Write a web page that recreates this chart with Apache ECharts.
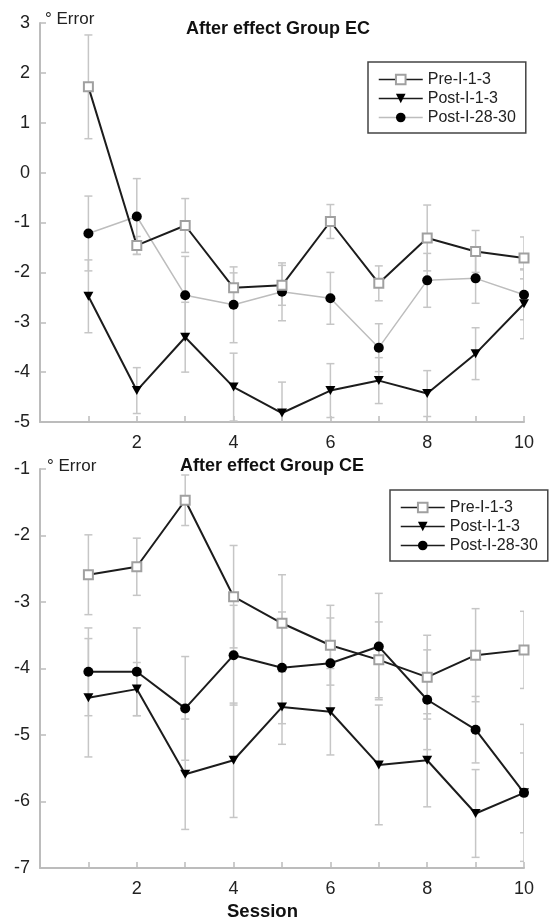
<!DOCTYPE html>
<html>
<head>
<meta charset="utf-8">
<script src="https://cdn.jsdelivr.net/npm/echarts@6/dist/echarts.min.js"></script>
<style>
  html, body { margin: 0; padding: 0; background: #fff; }
  #chart { width: 550px; height: 922px; }
</style>
</head>
<body>
<div id="chart"></div>
<script>
// Sessions shared by both panels
const sessions = [1, 2, 3, 4, 5, 6, 7, 8, 9, 10];
const seriesNames = ['Pre-I-1-3', 'Post-I-1-3', 'Post-I-28-30'];

// Group EC: mean error and error-bar half width
const ecPre      = [1.72, -1.46, -1.06, -2.31, -2.26, -0.98, -2.22, -1.31, -1.58, -1.71];
const ecPreErr   = [1.04, 0.18, 0.54, 0.30, 0.40, 0.34, 0.35, 0.66, 0.42, 0.42];
const ecPost     = [-2.48, -4.37, -3.30, -4.30, -4.82, -4.37, -4.17, -4.43, -3.63, -2.63];
const ecPostErr  = [0.73, 0.46, 0.70, 0.68, 0.62, 0.54, 0.46, 0.46, 0.52, 0.70];
const ecLate     = [-1.22, -0.88, -2.46, -2.65, -2.39, -2.52, -3.51, -2.16, -2.12, -2.45];
const ecLateErr  = [0.75, 0.76, 0.78, 0.76, 0.58, 0.52, 0.48, 0.54, 0.50, 0.50];

// Group CE
const cePre      = [-2.59, -2.47, -1.47, -2.92, -3.32, -3.65, -3.87, -4.13, -3.80, -3.72];
const cePreErr   = [0.60, 0.43, 0.38, 0.77, 0.73, 0.60, 0.57, 0.63, 0.70, 0.58];
const cePost     = [-4.44, -4.31, -5.59, -5.38, -4.58, -4.65, -5.45, -5.38, -6.18, -5.87];
const cePostErr  = [0.89, 0.40, 0.83, 0.86, 0.56, 0.65, 0.90, 0.70, 0.66, 0.60];
const ceLate     = [-4.05, -4.05, -4.60, -3.80, -3.99, -3.92, -3.67, -4.47, -4.92, -5.87];
const ceLateErr  = [0.66, 0.66, 0.78, 0.75, 0.84, 0.68, 0.80, 0.75, 0.50, 1.03];

// Axis ranges
const ecYRange = [-5, 3];
const ceYRange = [-7, -1];
const xRange = [0, 10];

const FONT = '"Liberation Sans", Arial, sans-serif';
const DARK = '#1c1c1c';
const LIGHT = '#bdbdbd';
const BAR = '#c6c6c6';
const AXIS = '#bcbcbc';
const TRI = 'path://M0,0L10,0L5,9Z';

function pts(vals) { return sessions.map((s, i) => [s, vals[i]]); }
function bars(vals, errs) { return sessions.map((s, i) => [s, vals[i] - errs[i], vals[i] + errs[i]]); }

function renderErrorBar(params, api) {
  const x = api.value(0);
  const lo = api.coord([x, api.value(1)]);
  const hi = api.coord([x, api.value(2)]);
  const cap = 4;
  const style = { stroke: BAR, lineWidth: 1.5 };
  return {
    type: 'group',
    children: [
      { type: 'line', shape: { x1: lo[0], y1: lo[1], x2: hi[0], y2: hi[1] }, style },
      { type: 'line', shape: { x1: hi[0] - cap, y1: hi[1], x2: hi[0] + cap, y2: hi[1] }, style },
      { type: 'line', shape: { x1: lo[0] - cap, y1: lo[1], x2: lo[0] + cap, y2: lo[1] }, style }
    ]
  };
}

function errSeries(idx, vals, errs) {
  return {
    type: 'custom', xAxisIndex: idx, yAxisIndex: idx, clip: true, z: 1,
    silent: true, renderItem: renderErrorBar, data: bars(vals, errs)
  };
}

function lineSeries(idx, name, vals, opt) {
  return Object.assign({
    type: 'line', name, xAxisIndex: idx, yAxisIndex: idx, data: pts(vals),
    z: 3, animation: false
  }, opt);
}

const preStyle = {
  symbol: 'emptyRect', symbolSize: 9,
  lineStyle: { color: DARK, width: 2 },
  itemStyle: { color: '#a0a0a0', borderWidth: 1.2 }
};
const postStyle = {
  symbol: TRI, symbolSize: [10, 9],
  lineStyle: { color: DARK, width: 2 },
  itemStyle: { color: '#000' }
};
const lateStyleEC = {
  symbol: 'circle', symbolSize: 10, z: 2,
  lineStyle: { color: LIGHT, width: 1.5 },
  itemStyle: { color: '#000' }
};
const lateStyleCE = {
  symbol: 'circle', symbolSize: 10,
  lineStyle: { color: DARK, width: 2 },
  itemStyle: { color: '#000' }
};

function xAxis(idx) {
  return {
    type: 'value', gridIndex: idx, min: xRange[0], max: xRange[1], interval: 1,
    axisLine: { onZero: false, lineStyle: { color: AXIS, width: 2 } },
    axisTick: { inside: true, length: 6, lineStyle: { color: AXIS, width: 1.5 } },
    splitLine: { show: false },
    axisLabel: {
      color: '#222', fontFamily: FONT, fontSize: 18, margin: 12,
      formatter: v => (v > 0 && v % 2 === 0) ? String(v) : ''
    }
  };
}
function yAxis(idx, range) {
  return {
    type: 'value', gridIndex: idx, min: range[0], max: range[1], interval: 1,
    axisLine: { show: true, onZero: false, lineStyle: { color: AXIS, width: 2 } },
    axisTick: { show: true, inside: true, length: 6, lineStyle: { color: AXIS, width: 1.5 } },
    splitLine: { show: false },
    axisLabel: { color: '#222', fontFamily: FONT, fontSize: 18, margin: 10 }
  };
}

function legend(left, top, lateLine) {
  return {
    orient: 'vertical', left, top,
    itemWidth: 44, itemHeight: 12, itemGap: 0,
    padding: [8, 10, 6, 10],
    borderColor: '#444', borderWidth: 1.5, backgroundColor: '#fff',
    selectedMode: false,
    textStyle: { fontFamily: FONT, fontSize: 16, color: '#222', lineHeight: 19 },
    data: [
      { name: seriesNames[0], lineStyle: { color: DARK, width: 1.5 } },
      { name: seriesNames[1], lineStyle: { color: DARK, width: 1.5 } },
      { name: seriesNames[2], lineStyle: { color: lateLine, width: 1.5 } }
    ]
  };
}

const chart = echarts.init(document.getElementById('chart'), null, { renderer: 'canvas' });
chart.setOption({
  animation: false,
  backgroundColor: '#fff',
  grid: [
    { left: 40, width: 484, top: 23, height: 399 },
    { left: 40, width: 484, top: 469, height: 399 }
  ],
  xAxis: [xAxis(0), xAxis(1)],
  yAxis: [yAxis(0, ecYRange), yAxis(1, ceYRange)],
  legend: [legend(368, 62, LIGHT), legend(390, 490, DARK)],
  graphic: [
    { type: 'text', left: 186, top: 20, style: { text: 'After effect Group EC', font: 'bold 18px ' + FONT, fill: '#111' } },
    { type: 'text', left: 45, top: 11, style: { text: '° Error', font: '17px ' + FONT, fill: '#222' } },
    { type: 'text', left: 180, top: 457, style: { text: 'After effect Group CE', font: 'bold 18px ' + FONT, fill: '#111' } },
    { type: 'text', left: 47, top: 458, style: { text: '° Error', font: '17px ' + FONT, fill: '#222' } },
    { type: 'text', left: 227, top: 902, style: { text: 'Session', font: 'bold 18.5px ' + FONT, fill: '#111' } }
  ],
  series: [
    errSeries(0, ecPre, ecPreErr),
    errSeries(0, ecPost, ecPostErr),
    errSeries(0, ecLate, ecLateErr),
    lineSeries(0, seriesNames[2], ecLate, lateStyleEC),
    lineSeries(0, seriesNames[0], ecPre, preStyle),
    lineSeries(0, seriesNames[1], ecPost, postStyle),

    errSeries(1, cePre, cePreErr),
    errSeries(1, cePost, cePostErr),
    errSeries(1, ceLate, ceLateErr),
    lineSeries(1, seriesNames[0], cePre, preStyle),
    lineSeries(1, seriesNames[1], cePost, postStyle),
    lineSeries(1, seriesNames[2], ceLate, lateStyleCE)
  ]
});
</script>
</body>
</html>
